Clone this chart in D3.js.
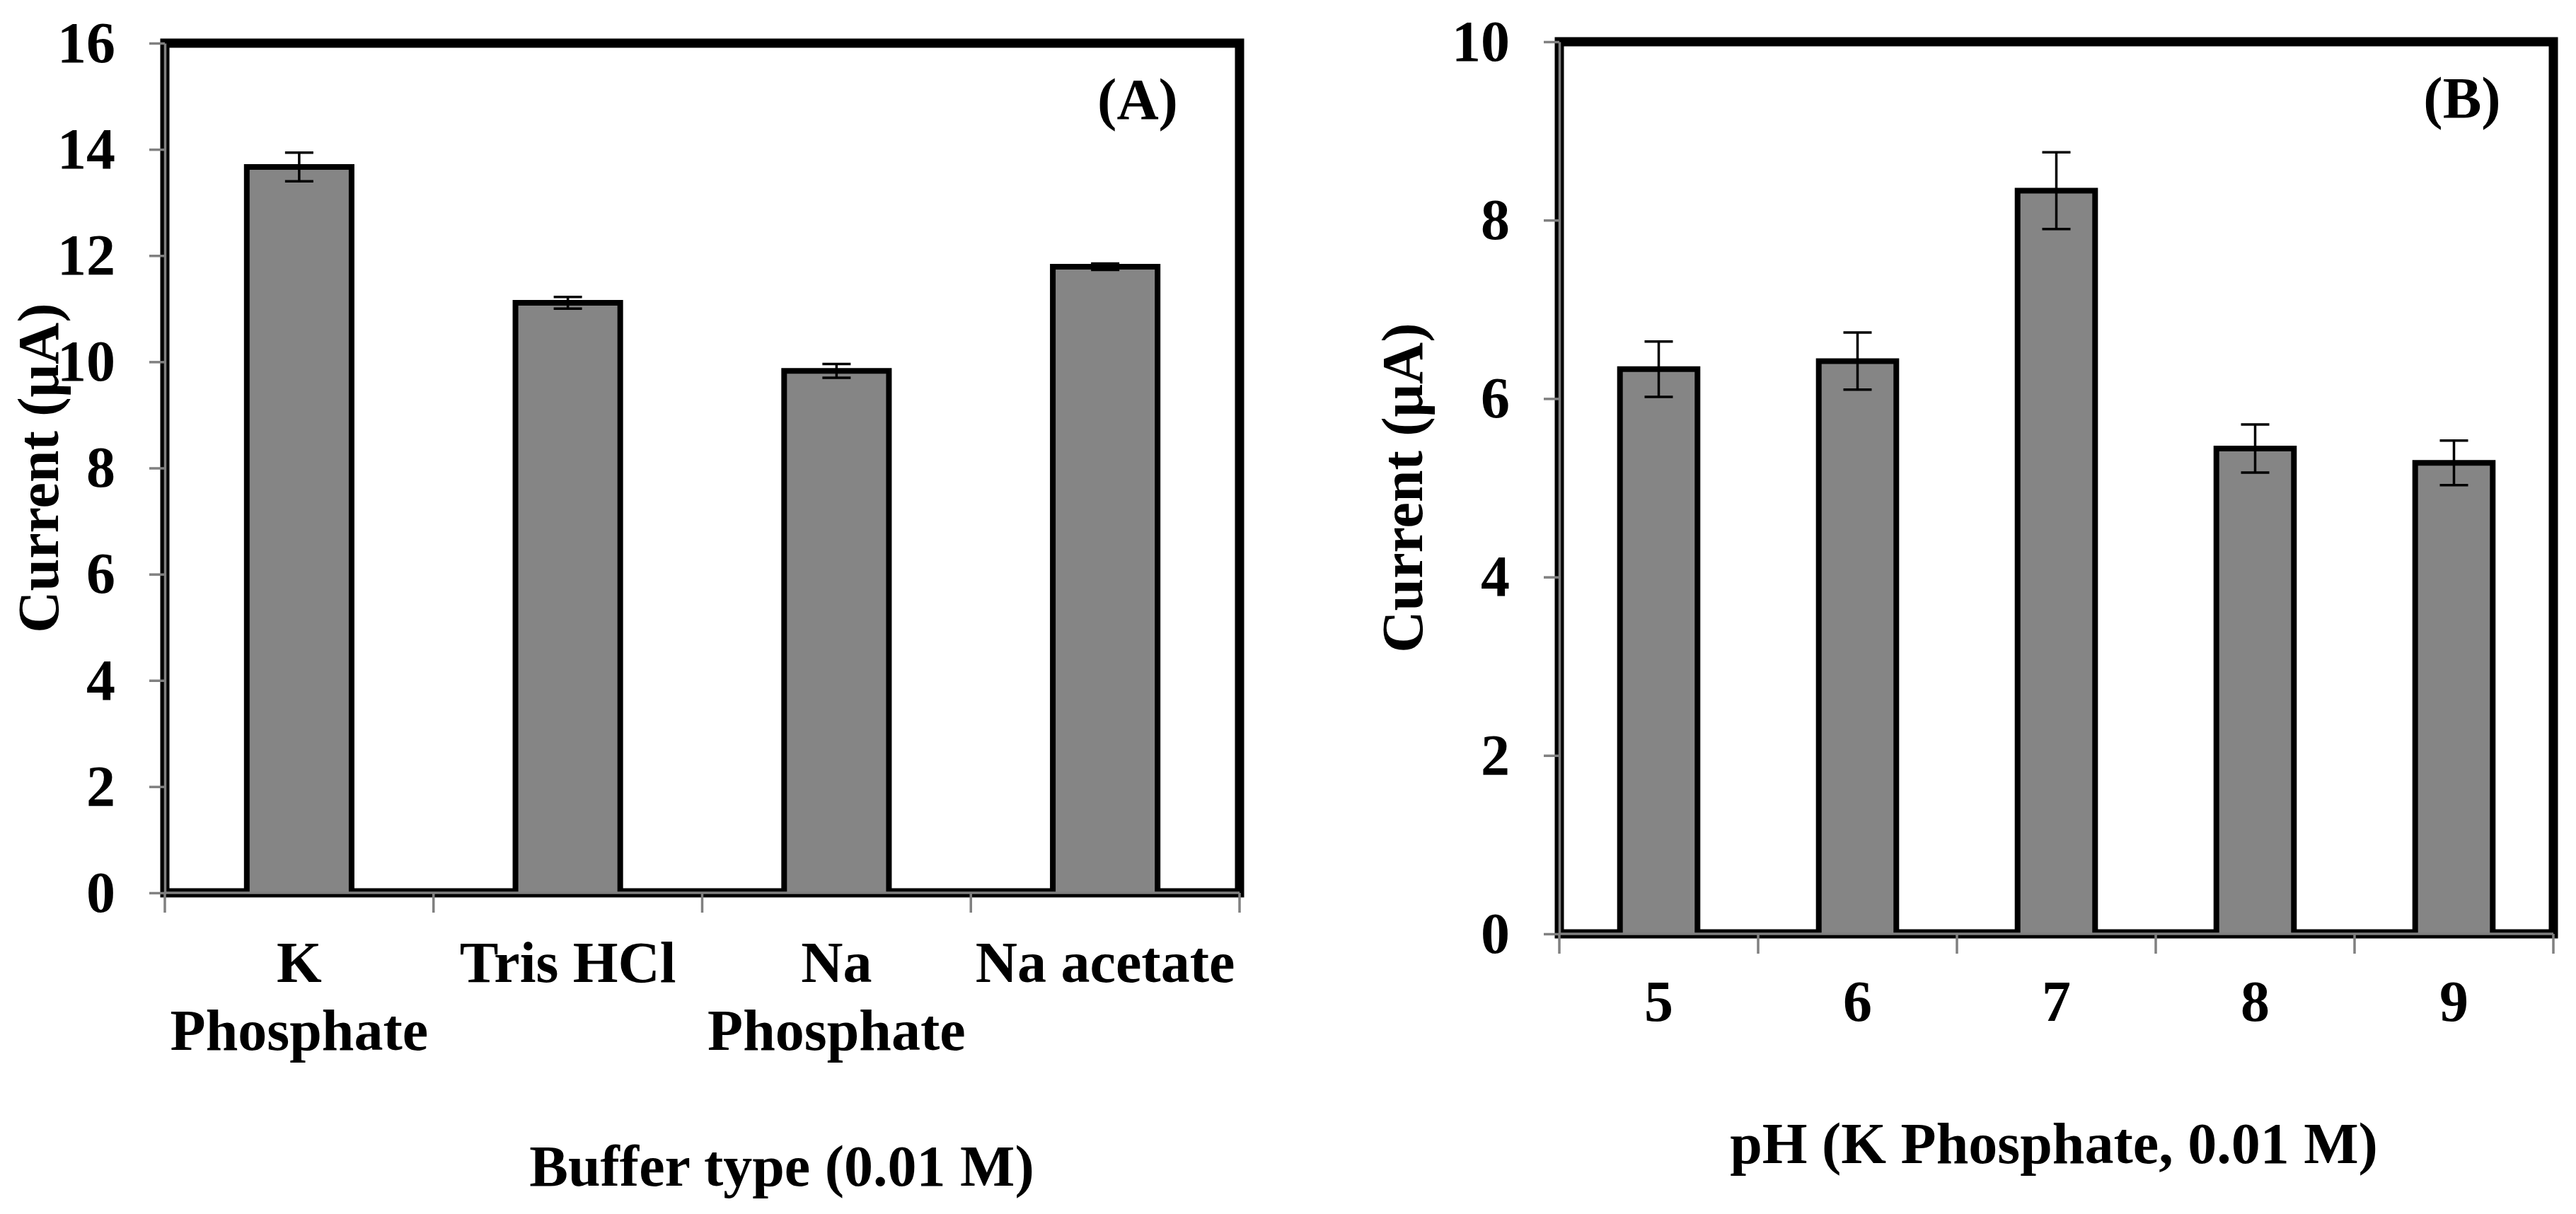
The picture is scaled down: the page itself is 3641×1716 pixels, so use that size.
<!DOCTYPE html>
<html>
<head>
<meta charset="utf-8">
<script src="https://cdn.jsdelivr.net/npm/d3@7"></script>
<style>
  body { margin: 0; background: #fff; }
  text { font-family: "Liberation Serif", "Times New Roman", serif; font-weight: bold; fill: #000; }
</style>
</head>
<body>
<svg id="chart"></svg>
<script>
// Panel A: buffer type (0.01 M)
const bufferTypes = ["K Phosphate", "Tris HCl", "Na Phosphate", "Na acetate"];
const bufferLabelLines = [["K", "Phosphate"], ["Tris HCl"], ["Na", "Phosphate"], ["Na acetate"]];
const bufferCurrent = [13.67, 11.11, 9.83, 11.79];
const bufferError = [0.27, 0.11, 0.13, 0.06];
const bufferTicks = [0, 2, 4, 6, 8, 10, 12, 14, 16];

// Panel B: pH (K phosphate, 0.01 M)
const phLevels = ["5", "6", "7", "8", "9"];
const phLabelLines = [["5"], ["6"], ["7"], ["8"], ["9"]];
const phCurrent = [6.33, 6.42, 8.33, 5.44, 5.28];
const phError = [0.31, 0.32, 0.43, 0.27, 0.25];
const phTicks = [0, 2, 4, 6, 8, 10];

const width = 3641, height = 1716;
const fontSize = 82;
const axisGray = '#808080';

const svg = d3.select('#chart')
    .attr('width', width)
    .attr('height', height);

function drawPanel(cfg) {
    const g = svg.append('g');

    const x = d3.scaleBand()
        .domain(cfg.categories)
        .range([cfg.left, cfg.right])
        .padding(0);
    const y = d3.scaleLinear()
        .domain([0, cfg.yMax])
        .range([cfg.bottom, cfg.top]);

    const barW = x.bandwidth() * 0.39;
    const rows = cfg.categories.map((c, i) => ({
        cat: c, v: cfg.values[i], e: cfg.errors[i], lines: cfg.lines[i]
    }));

    // thick plot frame
    g.append('rect')
        .attr('x', cfg.left)
        .attr('y', cfg.top)
        .attr('width', cfg.right - cfg.left)
        .attr('height', cfg.bottom - cfg.top)
        .attr('fill', 'none')
        .attr('stroke', '#000')
        .attr('stroke-width', 13);

    // bars: fill reaches the axis, outline only on three sides
    g.selectAll('rect.bar')
        .data(rows)
        .join('rect')
        .attr('class', 'bar')
        .attr('x', d => x(d.cat) + (x.bandwidth() - barW) / 2)
        .attr('y', d => y(d.v))
        .attr('width', barW)
        .attr('height', d => y(0) - y(d.v))
        .attr('fill', '#858585');

    g.selectAll('path.outline')
        .data(rows)
        .join('path')
        .attr('class', 'outline')
        .attr('d', d => {
            const x0 = x(d.cat) + (x.bandwidth() - barW) / 2;
            return `M${x0},${y(0)}V${y(d.v)}H${x0 + barW}V${y(0)}`;
        })
        .attr('fill', 'none')
        .attr('stroke', '#000')
        .attr('stroke-width', 8);

    // y axis (gray line + outward ticks)
    const yAxis = g.append('g')
        .attr('transform', `translate(${cfg.left},0)`)
        .call(d3.axisLeft(y).tickValues(cfg.ticks).tickSize(22).tickSizeOuter(0).tickPadding(48));
    yAxis.attr('font-family', null).attr('font-size', fontSize);
    yAxis.select('.domain').attr('stroke', axisGray).attr('stroke-width', 3.5);
    yAxis.selectAll('.tick line').attr('stroke', axisGray).attr('stroke-width', 3.5);

    // x axis: gray line, ticks between categories
    g.append('line')
        .attr('x1', cfg.left).attr('x2', cfg.right)
        .attr('y1', y(0)).attr('y2', y(0))
        .attr('stroke', axisGray).attr('stroke-width', 3.5);

    const bounds = cfg.categories.map(c => x(c)).concat([x.range()[1]]);
    g.selectAll('line.xtick')
        .data(bounds)
        .join('line')
        .attr('class', 'xtick')
        .attr('x1', d => d).attr('x2', d => d)
        .attr('y1', y(0)).attr('y2', y(0) + 28)
        .attr('stroke', axisGray).attr('stroke-width', 3.5);

    // category labels
    const labels = g.selectAll('text.xlab')
        .data(rows)
        .join('text')
        .attr('class', 'xlab')
        .attr('text-anchor', 'middle')
        .attr('font-size', fontSize);
    labels.selectAll('tspan')
        .data(d => d.lines.map(l => ({ l, cx: x(d.cat) + x.bandwidth() / 2 })))
        .join('tspan')
        .attr('x', d => d.cx)
        .attr('y', (d, i) => y(0) + cfg.labelOffset + i * 96)
        .text(d => d.l);

    // error bars
    const err = g.selectAll('g.err')
        .data(rows)
        .join('g')
        .attr('class', 'err')
        .attr('stroke', '#000')
        .attr('stroke-width', 3.5);
    err.append('line')
        .attr('x1', d => x(d.cat) + x.bandwidth() / 2)
        .attr('x2', d => x(d.cat) + x.bandwidth() / 2)
        .attr('y1', d => y(d.v + d.e))
        .attr('y2', d => y(d.v - d.e));
    [1, -1].forEach(s => {
        err.append('line')
            .attr('x1', d => x(d.cat) + x.bandwidth() / 2 - 20)
            .attr('x2', d => x(d.cat) + x.bandwidth() / 2 + 20)
            .attr('y1', d => y(d.v + s * d.e))
            .attr('y2', d => y(d.v + s * d.e));
    });

    // axis titles and panel tag
    g.append('text')
        .attr('x', cfg.xTitleX)
        .attr('y', cfg.xTitleY)
        .attr('text-anchor', 'middle')
        .attr('font-size', fontSize)
        .text(cfg.xTitle);

    g.append('text')
        .attr('transform', `translate(${cfg.yTitleX},${(cfg.top + cfg.bottom) / 2}) rotate(-90)`)
        .attr('text-anchor', 'middle')
        .attr('font-size', fontSize)
        .text('Current (\u03bcA)');

    g.append('text')
        .attr('x', cfg.tagX)
        .attr('y', cfg.tagY)
        .attr('text-anchor', 'middle')
        .attr('font-size', fontSize)
        .text(cfg.tag);
}

drawPanel({
    categories: bufferTypes, lines: bufferLabelLines,
    values: bufferCurrent, errors: bufferError,
    yMax: 16, ticks: bufferTicks,
    left: 233, right: 1752, top: 61, bottom: 1262,
    labelOffset: 126,
    xTitle: 'Buffer type (0.01 M)', xTitleX: 1105, xTitleY: 1676,
    yTitleX: 82, tag: '(A)', tagX: 1608, tagY: 168
});

drawPanel({
    categories: phLevels, lines: phLabelLines,
    values: phCurrent, errors: phError,
    yMax: 10, ticks: phTicks,
    left: 2204, right: 3609, top: 59, bottom: 1320,
    labelOffset: 123,
    xTitle: 'pH (K Phosphate, 0.01 M)', xTitleX: 2903, xTitleY: 1644,
    yTitleX: 2010, tag: '(B)', tagX: 3480, tagY: 166
});
</script>
</body>
</html>
